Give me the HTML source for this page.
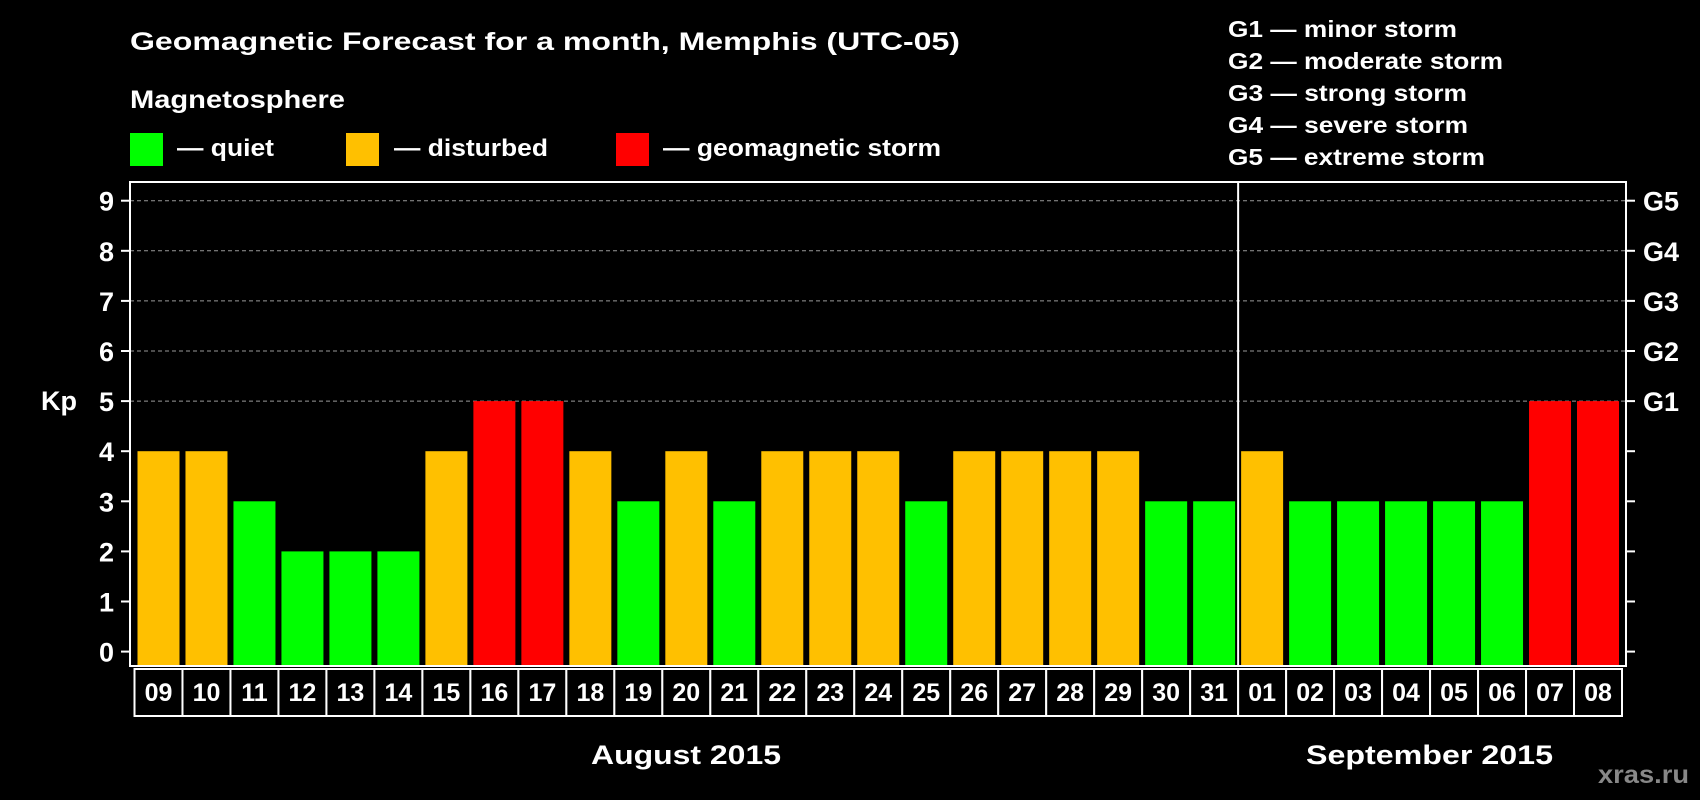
<!DOCTYPE html>
<html><head><meta charset="utf-8">
<style>
html,body{margin:0;padding:0;background:#000;width:1700px;height:800px;overflow:hidden}
svg{display:block;font-family:"Liberation Sans",Arial,sans-serif;font-weight:bold}
</style></head>
<body>
<svg id="chart" width="1700" height="800" viewBox="0 0 1700 800">
<rect width="1700" height="800" fill="#000"/>
<text x="130" y="50" fill="#fff" font-size="25" textLength="830" lengthAdjust="spacingAndGlyphs">Geomagnetic Forecast for a month, Memphis (UTC-05)</text>
<text x="130" y="108" fill="#fff" font-size="25" textLength="215" lengthAdjust="spacingAndGlyphs">Magnetosphere</text>
<g id="legend"></g>
<g id="glegend"></g>
<g id="plot"></g>
<text x="591" y="764" fill="#fff" font-size="27" textLength="190" lengthAdjust="spacingAndGlyphs">August 2015</text>
<text x="1306" y="764" fill="#fff" font-size="27" textLength="247" lengthAdjust="spacingAndGlyphs">September 2015</text>
<text x="1598" y="783" fill="#888" font-size="25" textLength="91" lengthAdjust="spacingAndGlyphs">xras.ru</text>
</svg>
<script>
const days = ["09","10","11","12","13","14","15","16","17","18","19","20","21","22","23","24","25","26","27","28","29","30","31","01","02","03","04","05","06","07","08"];
const kpValues = [4,4,3,2,2,2,4,5,5,4,3,4,3,4,4,4,3,4,4,4,4,3,3,4,3,3,3,3,3,5,5];
const yTicks = [0,1,2,3,4,5,6,7,8,9];
const gLabels = ["G1","G2","G3","G4","G5"];
const gLevels = [5,6,7,8,9];
const gDescriptions = ["G1 — minor storm","G2 — moderate storm","G3 — strong storm","G4 — severe storm","G5 — extreme storm"];
const augustCount = 23;

const NS = "http://www.w3.org/2000/svg";
const plot = document.getElementById("plot");
function mk(tag, attrs, parent, text){
  const e = document.createElementNS(NS, tag);
  for (const k in attrs) e.setAttribute(k, attrs[k]);
  if (text !== undefined) e.textContent = text;
  parent.appendChild(e);
  return e;
}
const L = 130, R = 1626, T = 182, B = 666;
const SL = 134.5, SR = 1622;
function y(v){ return 651.6 - 50.1 * v; }
function color(v){ return v >= 5 ? "#ff0000" : (v >= 4 ? "#ffc000" : "#00ff00"); }
const step = (SR - SL) / days.length;
function slotLeft(i){ return SL + i * step; }
const DIV = slotLeft(augustCount);

// legend
const legend = document.getElementById("legend");
const legItems = [["quiet","#00ff00",130,177,"— quiet",97],["disturbed","#ffc000",346,394,"— disturbed",154],["storm","#ff0000",616,663,"— geomagnetic storm",278]];
legItems.forEach(it=>{
  const r = mk("rect",{x:it[2],y:133,width:33,height:33,fill:it[1]},legend);
  
  
  const t = mk("text",{x:it[3],y:156,fill:"#fff","font-size":24,textLength:it[5],lengthAdjust:"spacingAndGlyphs"},legend,it[4]);
  
  
});
const gl = document.getElementById("glegend");
gDescriptions.forEach((d,i)=>{
  const t = mk("text",{x:1228,y:37+32*i,fill:"#fff","font-size":23,textLength:[229,275,239,240,257][i],lengthAdjust:"spacingAndGlyphs"},gl,d);
  
  
});

// grid
gLevels.forEach(v=>{
  const g = mk("line",{x1:L,x2:R,y1:y(v),y2:y(v),stroke:"#999","stroke-width":1,"stroke-dasharray":"4,3"},plot);
  
  
});
// bars
kpValues.forEach((v,i)=>{
  const bw = 42;
  const x = slotLeft(i) + (step - bw)/2;
  const b = mk("rect",{x:x,y:y(v),width:bw,height:B - 1 - y(v),fill:color(v)},plot);
  
  
});
// frame
const f = mk("rect",{x:L,y:T,width:R-L,height:B-T,fill:"none",stroke:"#fff","stroke-width":2},plot);


const dv = mk("line",{x1:DIV,x2:DIV,y1:T,y2:B,stroke:"#fff","stroke-width":2},plot);


// y ticks
yTicks.forEach(v=>{
  const tk = mk("line",{x1:121,x2:L,y1:y(v),y2:y(v),stroke:"#fff","stroke-width":2},plot);
  
  
  const tk2 = mk("line",{x1:R,x2:1635,y1:y(v),y2:y(v),stroke:"#fff","stroke-width":2},plot);
  
  
  const t = mk("text",{x:114,y:y(v)+10,fill:"#fff","font-size":27,"text-anchor":"end"},plot,String(v));
  
  
});
gLevels.forEach((v,i)=>{
  const t = mk("text",{x:1643,y:y(v)+10,fill:"#fff","font-size":27},plot,gLabels[i]);
  
  
});
const kp = mk("text",{x:41,y:410,fill:"#fff","font-size":27},plot,"Kp");


// day boxes
days.forEach((d,i)=>{
  const x = slotLeft(i);
  const r = mk("rect",{x:x,y:669,width:step,height:47,fill:"#000",stroke:"#fff","stroke-width":2},plot);
  
  
  const t = mk("text",{x:x+step/2,y:701,fill:"#fff","font-size":25,"text-anchor":"middle"},plot,d);
  
  
});
</script>
</body></html>
